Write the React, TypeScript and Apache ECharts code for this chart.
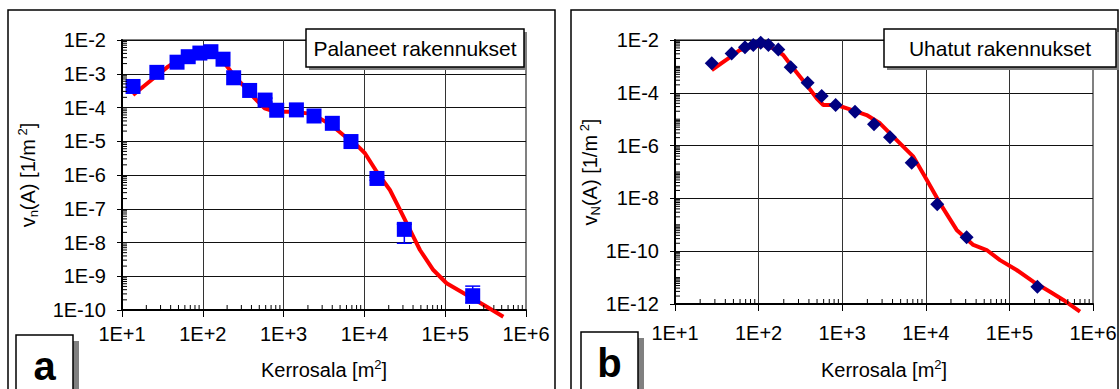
import React, { useEffect, useRef } from 'react';
import * as echarts from 'echarts';

// Palaneet rakennukset: observed density per floor area class
const burnedArea = [13.7, 27, 48, 66, 92, 126, 178, 241, 380, 590, 822, 1440, 2380, 4010, 6820, 14300, 31200, 219000];
const burnedDensity = [4.2e-4, 1.1e-3, 2.2e-3, 3.2e-3, 4.1e-3, 4.5e-3, 2.7e-3, 7.6e-4, 3.2e-4, 1.66e-4, 8.3e-5, 8.5e-5, 5.6e-5, 3.4e-5, 9.8e-6, 7.9e-7, 2.45e-8, 2.65e-10];

// error bars of the burned-buildings series
const burnedErrArea = [590, 14300, 31200, 219000];
const burnedErrLow = [1.45e-4, 7.0e-7, 9.5e-9, 1.6e-10];
const burnedErrHigh = [1.9e-4, 8.6e-7, 3.5e-8, 5.1e-10];

// fitted curve for the burned buildings
const burnedFitArea = [13.7, 23.1, 37.1, 56.9, 87.2, 116, 140, 187, 248, 330, 439, 583, 776, 1245, 2000, 2670, 3890, 5480, 8400, 10160, 14200, 20700, 27600, 40300, 48700, 71300, 104000, 185000, 327000, 524000];
const burnedFitDensity = [2.34e-4, 6.5e-4, 1.62e-3, 3.2e-3, 4.5e-3, 4.5e-3, 3.6e-3, 2.04e-3, 8.2e-4, 4.1e-4, 1.87e-4, 9.5e-5, 7.5e-5, 7.5e-5, 6.7e-5, 5.1e-5, 3.03e-5, 1.53e-5, 6.9e-6, 4.4e-6, 1.25e-6, 3.6e-7, 9.2e-8, 1.49e-8, 6.0e-9, 1.53e-9, 6.2e-10, 2.78e-10, 1.25e-10, 6.3e-11];

// Uhatut rakennukset: observed density per floor area class
const threatenedArea = [27.5, 47.6, 68.7, 86.5, 106, 131, 172, 242, 386, 568, 835, 1423, 2400, 3730, 6780, 13700, 30800, 216000];
const threatenedDensity = [1.31e-3, 3.1e-3, 5.3e-3, 6.5e-3, 7.9e-3, 6.5e-3, 4.4e-3, 9.2e-4, 2.4e-4, 7.6e-5, 3.45e-5, 1.93e-5, 6.4e-6, 2.06e-6, 2.25e-7, 5.97e-9, 3.35e-10, 4.5e-12];

// fitted curve for the threatened buildings
const threatenedFitArea = [27.5, 43.5, 60, 86.5, 114, 150, 197, 260, 376, 495, 594, 859, 1240, 1960, 2830, 4910, 7100, 9780, 14800, 23400, 37000, 53500, 77200, 122000, 193000, 306000, 442000, 699000];
const threatenedFitDensity = [7.3e-4, 2.02e-3, 4.2e-3, 5.6e-3, 6.5e-3, 4.8e-3, 2.7e-3, 8.5e-4, 1.97e-4, 6.2e-5, 3.45e-5, 3.45e-5, 2.37e-5, 1.44e-5, 7.0e-6, 1.22e-6, 3.8e-7, 6.6e-8, 6.5e-9, 6.4e-10, 1.72e-10, 1.11e-10, 4.6e-11, 1.94e-11, 7.0e-12, 2.9e-12, 1.42e-12, 5.1e-13];

// axis ranges
const areaMin = 1e1;
const areaMax = 1e6;
const burnedMin = 1e-10;
const burnedMax = 1e-2;
const threatenedMin = 1e-12;
const threatenedMax = 1e-2;

const FONT = '"Liberation Sans", Arial, sans-serif';

// 2..9 × 10^e for every decade e in [from, to)
function logMinorTicks(from: number, to: number): number[] {
  const out: number[] = [];
  for (let e = from; e < to; e++) {
    for (let k = 2; k <= 9; k++) out.push(k * Math.pow(10, e));
  }
  return out;
}

function expLabel(v: number): string {
  const e = Math.round(Math.log10(v));
  return '1E' + (e >= 0 ? '+' : '-') + Math.abs(e);
}

const zip = (a: number[], b: number[]) => a.map((v, i) => [v, b[i]]);

function xAxisOf(gridIndex: number, labelMargin: number, nameGap: number) {
  return {
    type: 'log',
    logBase: 10,
    gridIndex,
    min: areaMin,
    max: areaMax,
    interval: 1,
    name: '{t|Kerrosala [m}{p|2}{t|]}',
    nameLocation: 'middle',
    nameGap,
    nameTextStyle: {
      rich: {
        t: { fontSize: 20, fontFamily: FONT, color: '#000', lineHeight: 24, verticalAlign: 'middle' },
        p: { fontSize: 13, fontFamily: FONT, color: '#000', lineHeight: 24, verticalAlign: 'top', padding: [0, 0, 6, 0] },
      },
    },
    axisLine: { show: true, onZero: false, lineStyle: { color: '#000', width: 2 } },
    axisTick: { show: true, inside: false, length: 7, lineStyle: { color: '#000', width: 1 } },
    minorTick: { show: false },
    axisLabel: { formatter: expLabel, fontSize: 20, fontFamily: FONT, color: '#000', margin: labelMargin },
    splitLine: { show: true, showMaxLine: false, lineStyle: { color: '#333', width: 1 } },
  };
}

function yAxisOf(gridIndex: number, min: number, max: number, interval: number, name: string, nameGap: number) {
  return {
    type: 'log',
    logBase: 10,
    gridIndex,
    min,
    max,
    interval,
    name,
    nameLocation: 'middle',
    nameRotate: 90,
    nameGap,
    nameTextStyle: {
      rich: {
        t: { fontSize: 20, fontFamily: FONT, color: '#000', lineHeight: 24, verticalAlign: 'middle' },
        s: { fontSize: 13, fontFamily: FONT, color: '#000', lineHeight: 24, verticalAlign: 'bottom' },
        p: { fontSize: 13, fontFamily: FONT, color: '#000', lineHeight: 24, verticalAlign: 'top' },
      },
    },
    axisLine: { show: true, onZero: false, lineStyle: { color: '#000', width: 2 } },
    axisTick: { show: true, inside: false, length: 5, lineStyle: { color: '#000', width: 1 } },
    minorTick: { show: false },
    axisLabel: { formatter: expLabel, fontSize: 20, fontFamily: FONT, color: '#000', margin: 16 },
    splitLine: { show: true, showMaxLine: false, lineStyle: { color: '#111', width: 1 } },
  };
}

// short inward ticks at the minor log positions of an x axis
function xMinorSeries(idx: number, yBase: number, values: number[]) {
  return {
    type: 'custom',
    xAxisIndex: idx,
    yAxisIndex: idx,
    silent: true,
    z: 5,
    data: values.map((v) => [v, yBase]),
    renderItem: (_p: any, api: any) => {
      const pt = api.coord([api.value(0), api.value(1)]);
      return {
        type: 'line',
        shape: { x1: pt[0], y1: pt[1], x2: pt[0], y2: pt[1] - 5 },
        style: { stroke: '#000', lineWidth: 1 },
      };
    },
  };
}

// short inward ticks at the minor log positions of a y axis
function yMinorSeries(idx: number, xBase: number, values: number[]) {
  return {
    type: 'custom',
    xAxisIndex: idx,
    yAxisIndex: idx,
    silent: true,
    z: 5,
    data: values.map((v) => [xBase, v]),
    renderItem: (_p: any, api: any) => {
      const pt = api.coord([api.value(0), api.value(1)]);
      return {
        type: 'line',
        shape: { x1: pt[0], y1: pt[1], x2: pt[0] + 5, y2: pt[1] },
        style: { stroke: '#000', lineWidth: 1 },
      };
    },
  };
}

function framedLabel(x: number, y: number, w: number, h: number, text: string, shadow: number) {
  return {
    type: 'group',
    children: [
      { type: 'rect', shape: { x: x + shadow, y: y + shadow, width: w, height: h }, style: { fill: '#808080' }, z: 100 },
      { type: 'rect', shape: { x, y, width: w, height: h }, style: { fill: '#fff', stroke: '#000', lineWidth: 1.5 }, z: 101 },
      {
        type: 'text',
        x: x + w / 2,
        y: y + h / 2,
        z: 102,
        style: { text, fill: '#000', font: `21px ${FONT}`, align: 'center', verticalAlign: 'middle' },
      },
    ],
  };
}

function letterBox(x: number, y: number, letter: string) {
  return {
    type: 'group',
    children: [
      { type: 'rect', shape: { x: x + 6, y: y + 6, width: 57, height: 80 }, style: { fill: '#808080' }, z: 100 },
      { type: 'rect', shape: { x, y, width: 57, height: 80 }, style: { fill: '#fff', stroke: '#000', lineWidth: 1.5 }, z: 101 },
      {
        type: 'text',
        x: x + 28.5,
        y: y + 31,
        z: 102,
        style: { text: letter, fill: '#000', font: `bold 40px ${FONT}`, align: 'center', verticalAlign: 'middle' },
      },
    ],
  };
}

export default function App() {
  const ref = useRef<HTMLDivElement>(null);

  useEffect(() => {
    if (!ref.current) return;
    const chart = echarts.init(ref.current, undefined, { renderer: 'svg' });

    const option: any = {
      animation: false,
      backgroundColor: '#fff',
      textStyle: { fontFamily: FONT },
      grid: [
        { left: 122, top: 40, width: 404, height: 270, show: true, borderColor: '#808080', borderWidth: 2, backgroundColor: 'transparent' },
        { left: 675, top: 40, width: 418, height: 264, show: true, borderColor: '#808080', borderWidth: 2, backgroundColor: 'transparent' },
      ],
      xAxis: [xAxisOf(0, 14, 48), xAxisOf(1, 19, 54)],
      yAxis: [
        yAxisOf(0, burnedMin, burnedMax, 1, '{t|v}{s|n}{t|(A) [1/m}{p| 2}{t|]}', 82),
        yAxisOf(1, threatenedMin, threatenedMax, 2, '{t|v}{s|N}{t|(A) [1/m}{p| 2}{t|]}', 70),
      ],
      series: [
        {
          type: 'line',
          xAxisIndex: 0,
          yAxisIndex: 0,
          data: zip(burnedFitArea, burnedFitDensity),
          showSymbol: false,
          clip: false,
          z: 2,
          lineStyle: { color: '#ff0000', width: 4 },
        },
        {
          type: 'custom',
          xAxisIndex: 0,
          yAxisIndex: 0,
          z: 3,
          data: burnedErrArea.map((a, i) => [a, burnedErrLow[i], burnedErrHigh[i]]),
          renderItem: (_p: any, api: any) => {
            const a = api.value(0);
            const lo = api.coord([a, api.value(1)]);
            const hi = api.coord([a, api.value(2)]);
            const st = { stroke: '#0000ff', lineWidth: 1.5 };
            return {
              type: 'group',
              children: [
                { type: 'line', shape: { x1: lo[0], y1: lo[1], x2: hi[0], y2: hi[1] }, style: st },
                { type: 'line', shape: { x1: lo[0] - 7.5, y1: lo[1], x2: lo[0] + 7.5, y2: lo[1] }, style: st },
                { type: 'line', shape: { x1: hi[0] - 7.5, y1: hi[1], x2: hi[0] + 7.5, y2: hi[1] }, style: st },
              ],
            };
          },
        },
        {
          type: 'scatter',
          xAxisIndex: 0,
          yAxisIndex: 0,
          z: 4,
          symbol: 'rect',
          symbolSize: 15,
          itemStyle: { color: '#0000ff', opacity: 1 },
          data: zip(burnedArea, burnedDensity),
        },
        {
          type: 'line',
          xAxisIndex: 1,
          yAxisIndex: 1,
          data: zip(threatenedFitArea, threatenedFitDensity),
          showSymbol: false,
          clip: false,
          z: 2,
          lineStyle: { color: '#ff0000', width: 4 },
        },
        {
          type: 'scatter',
          xAxisIndex: 1,
          yAxisIndex: 1,
          z: 4,
          symbol: 'diamond',
          symbolSize: 14,
          itemStyle: { color: '#000080', opacity: 1 },
          data: zip(threatenedArea, threatenedDensity),
        },
        xMinorSeries(0, burnedMin, logMinorTicks(1, 6)),
        yMinorSeries(0, areaMin, logMinorTicks(-10, -2)),
        xMinorSeries(1, threatenedMin, logMinorTicks(1, 6)),
        yMinorSeries(1, areaMin, [...logMinorTicks(-12, -2), 1e-11, 1e-9, 1e-7, 1e-5, 1e-3]),
      ],
      graphic: [
        // panel frames
        { type: 'rect', shape: { x: 8, y: 10, width: 547, height: 400 }, style: { fill: 'none', stroke: '#000', lineWidth: 1.5 }, z: 90, silent: true },
        { type: 'rect', shape: { x: 571, y: 10, width: 547, height: 400 }, style: { fill: 'none', stroke: '#000', lineWidth: 1.5 }, z: 90, silent: true },
        framedLabel(306, 29, 218, 38, 'Palaneet rakennukset', 3),
        framedLabel(884, 29, 232, 38, 'Uhatut rakennukset', 3),
        letterBox(16, 335, 'a'),
        letterBox(581, 332, 'b'),
      ],
    };

    chart.setOption(option);
    return () => chart.dispose();
  }, []);

  return (
    <div
      ref={ref}
      style={{ position: 'fixed', left: 0, top: 0, width: 1120, height: 389, background: '#fff' }}
    />
  );
}
